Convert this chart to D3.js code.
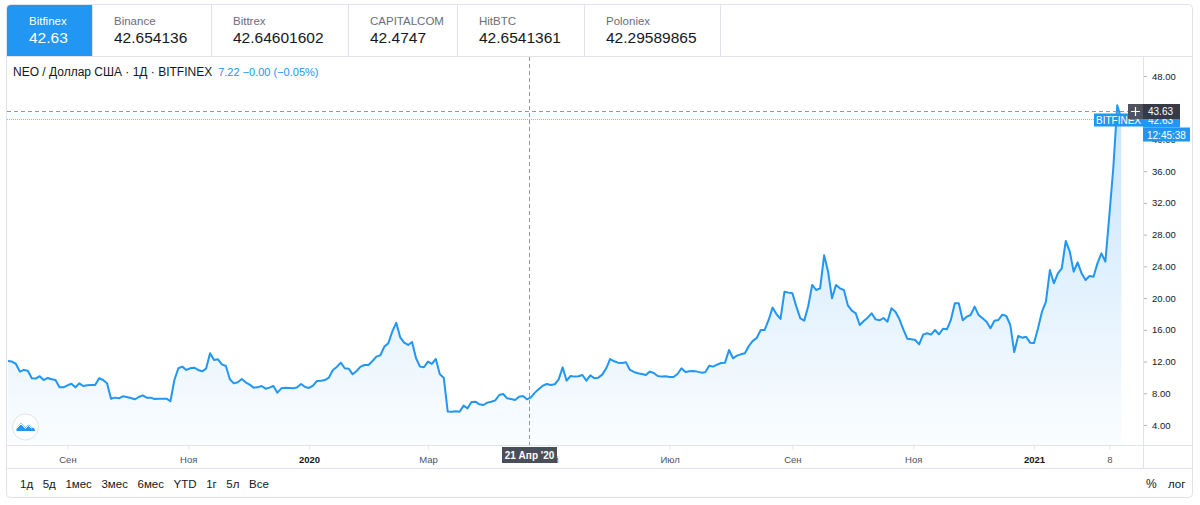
<!DOCTYPE html>
<html><head><meta charset="utf-8">
<script src="https://cdn.jsdelivr.net/npm/d3@7"></script>
<style>
html,body{margin:0;padding:0;background:#fff;}
svg{display:block;font-family:"Liberation Sans",Arial,sans-serif;}
</style></head><body>
<svg id="c" width="1200" height="505"></svg>
<script>
// ---------------- data ----------------
const startDate = "2019-08-02";
const stepDays = 2;
const prices = [
 12.07,12.0,11.7,10.73,10.94,10.85,9.89,9.85,10.15,9.67,
 9.93,9.76,9.67,8.75,8.75,9.0,9.2,8.75,9.25,8.92,
 9.0,9.04,9.04,9.89,9.67,9.25,7.32,7.45,7.36,7.62,
 7.53,7.41,7.24,7.53,7.74,7.45,7.45,7.28,7.32,7.32,
 7.32,6.99,9.67,11.15,11.36,10.94,11.15,11.23,10.94,10.77,
 11.1,13.04,12.2,12.28,11.65,11.44,9.76,9.25,9.38,9.8,
 9.38,9.09,8.71,8.75,8.92,8.58,8.71,8.92,8.08,8.62,
 8.71,8.67,8.62,8.75,9.17,8.79,8.67,8.96,9.55,9.59,
 9.67,9.97,10.94,11.32,11.86,11.15,11.1,10.39,10.81,11.36,
 11.57,11.57,12.07,12.62,12.79,13.88,14.3,15.77,16.9,15.05,
 14.38,14.09,14.47,12.41,11.36,11.28,11.99,11.7,12.33,10.4,
 9.95,5.7,5.68,5.72,5.68,6.44,6.1,6.9,6.94,6.61,
 6.52,6.82,6.94,7.11,7.78,7.91,7.36,7.28,7.15,7.57,
 7.66,7.24,7.49,8.08,8.54,8.96,9.17,9.05,9.13,9.76,
 11.27,9.59,10.18,10.1,10.14,10.31,9.59,10.26,9.89,9.97,
 10.35,11.15,12.32,12.03,11.86,11.82,11.9,10.94,10.69,10.52,
 10.43,10.31,10.73,10.56,10.18,10.1,10.14,10.05,10.05,10.43,
 11.15,10.69,10.77,10.81,10.73,10.6,10.64,11.48,11.36,11.61,
 11.82,11.86,13.46,12.41,12.74,12.91,13.04,13.96,14.6,14.97,
 15.98,15.98,17.24,18.8,17.96,17.37,20.81,20.69,20.6,18.92,
 17.45,17.16,19.01,21.66,21.02,21.23,25.4,23.34,19.97,21.66,
 21.23,21.02,19.09,18.41,18.08,16.61,17.11,17.53,18.08,17.32,
 17.2,17.49,17.03,18.71,18.29,17.36,16.06,14.88,14.8,14.71,
 14.17,15.39,15.56,15.39,15.98,15.43,16.14,16.06,17.24,19.34,
 19.34,17.2,17.66,17.87,18.92,17.87,17.45,17.03,16.19,17.15,
 17.24,17.91,17.74,16.61,13.2,15.22,15.01,15.13,14.38,14.33,
 16.19,18.29,19.55,23.54,21.86,23.12,23.75,27.2,25.9,23.33,
 24.51,23.12,22.28,22.79,22.7,24.38,25.64,24.59,30.4,36.4,
 44.3,42.63
];
const exchanges = ["Bitfinex","Binance","Bittrex","CAPITALCOM","HitBTC","Poloniex"];
const exchangePrices = ["42.63","42.654136","42.64601602","42.4747","42.6541361","42.29589865"];
const priceTicks = [4,8,12,16,20,24,28,32,36,40,48];
const timeTickDates = ["2019-09-01","2019-11-01","2020-01-01","2020-03-01","2020-05-01","2020-07-01","2020-09-01","2020-11-01","2021-01-01","2021-02-08"];
const timeTickLabels = ["Сен","Ноя","2020","Мар","Май","Июл","Сен","Ноя","2021","8"];
const boldTimeLabels = ["2020","2021"];
const rangeButtons = ["1д","5д","1мес","3мес","6мес","YTD","1г","5л","Все"];
const symbolTitle = "NEO / Доллар США · 1Д · BITFINEX";
const legendValues = "7.22 −0.00 (−0.05%)";
const crosshairDate = "2020-04-21";
const crosshairDateLabel = "21 Апр '20";
const crosshairPrice = 43.63;
const lastPrice = 42.63;
const countdown = "12:45:38";
const seriesName = "BITFINEX";
const xDomain = ["2019-08-02","2021-02-25"];
const yDomain = [4,48];

// ---------------- drawing ----------------
const parse = d3.timeParse("%Y-%m-%d");
const t0 = parse(startDate);
const data = prices.map((v,i)=>({date:d3.timeDay.offset(t0,i*stepDays), value:v}));

const svg = d3.select("#c");
const BLUE = "#2196f3";
const plot = {left:7, right:1143, top:57, bottom:445};
const x = d3.scaleTime().domain(xDomain.map(parse)).range([8,1143]);
const y = d3.scaleLinear().domain(yDomain).range([425,76]);

// outer frame
svg.append("rect").attr("x",6.5).attr("y",4.5).attr("width",1186).attr("height",493)
  .attr("rx",4).attr("fill","#fff").attr("stroke","#e0e3eb");

// defs
const defs = svg.append("defs");
const grad = defs.append("linearGradient").attr("id","ag").attr("gradientUnits","userSpaceOnUse")
  .attr("x1",0).attr("x2",0).attr("y1",100).attr("y2",plot.bottom);
grad.append("stop").attr("offset",0).attr("stop-color",BLUE).attr("stop-opacity",0.26);
grad.append("stop").attr("offset",1).attr("stop-color",BLUE).attr("stop-opacity",0.02);
defs.append("clipPath").attr("id","pc").append("rect")
  .attr("x",plot.left).attr("y",plot.top).attr("width",plot.right-plot.left).attr("height",plot.bottom-plot.top);

// tabs
const tabEdges = [7,92,211,348,457,584,720];
const tabs = svg.append("g");
tabs.append("path").attr("d","M7,56 L7,9 Q7,5 11,5 L92,5 L92,56 Z").attr("fill",BLUE);
tabEdges.slice(1).forEach(e=>{
  tabs.append("line").attr("x1",e+0.5).attr("x2",e+0.5).attr("y1",5).attr("y2",56).attr("stroke","#e0e3eb");
});
tabs.append("line").attr("x1",7).attr("x2",1192).attr("y1",56.5).attr("y2",56.5).attr("stroke","#e0e3eb");
exchanges.forEach((n,i)=>{
  const active = i===0;
  tabs.append("text").attr("x",tabEdges[i]+22).attr("y",25).attr("font-size",11.5)
    .attr("fill",active?"#fff":"#6a6d78").text(n);
  tabs.append("text").attr("x",tabEdges[i]+22).attr("y",43).attr("font-size",15.5)
    .attr("fill",active?"#fff":"#131722").text(exchangePrices[i]);
});

// area + line
const pg = svg.append("g").attr("clip-path","url(#pc)");
pg.append("path").datum(data)
  .attr("d", d3.area().x(d=>x(d.date)).y0(plot.bottom).y1(d=>y(d.value)))
  .attr("fill","url(#ag)");
pg.append("path").datum(data)
  .attr("d", d3.line().x(d=>x(d.date)).y(d=>y(d.value)))
  .attr("fill","none").attr("stroke",BLUE).attr("stroke-width",2).attr("stroke-linejoin","round");

// price line (last) and crosshair
const yLast = Math.round(y(lastPrice))+0.5;
const yCross = Math.round(y(crosshairPrice))+0.5;
const xCross = Math.round(x(parse(crosshairDate)))+0.5;
svg.append("line").attr("x1",plot.left).attr("x2",plot.right).attr("y1",yLast).attr("y2",yLast)
  .attr("stroke",BLUE).attr("stroke-opacity",0.6).attr("stroke-dasharray","1,1").attr("stroke-width",1);
svg.append("line").attr("x1",plot.left).attr("x2",plot.right).attr("y1",yCross).attr("y2",yCross)
  .attr("stroke","#9598a1").attr("stroke-dasharray","4,3");
svg.append("line").attr("x1",xCross).attr("x2",xCross).attr("y1",plot.top).attr("y2",plot.bottom)
  .attr("stroke","#9598a1").attr("stroke-dasharray","4,3");

// separators
svg.append("line").attr("x1",plot.right+0.5).attr("x2",plot.right+0.5).attr("y1",57).attr("y2",468).attr("stroke","#e0e3eb");
svg.append("line").attr("x1",7).attr("x2",1192).attr("y1",445.5).attr("y2",445.5).attr("stroke","#e0e3eb");
svg.append("line").attr("x1",7).attr("x2",1192).attr("y1",468.5).attr("y2",468.5).attr("stroke","#e0e3eb");

// right axis
const ya = svg.append("g").attr("transform",`translate(${plot.right+1},0)`)
  .call(d3.axisRight(y).tickValues(priceTicks).tickFormat(d=>d.toFixed(2)).tickSize(3).tickPadding(5));
ya.select(".domain").remove();
ya.selectAll("line").attr("stroke","#b2b5be");
ya.selectAll("text").attr("font-size",9.5).attr("fill","#131722").attr("font-family","Liberation Sans, Arial, sans-serif");

// bottom axis
const xa = svg.append("g").attr("transform",`translate(0,${plot.bottom+0.5})`)
  .call(d3.axisBottom(x).tickValues(timeTickDates.map(parse)).tickFormat((d,i)=>timeTickLabels[i]).tickSize(4).tickPadding(7));
xa.select(".domain").remove();
xa.selectAll("line").attr("stroke","#e0e3eb");
xa.selectAll("text").attr("font-size",9.5).attr("font-family","Liberation Sans, Arial, sans-serif")
  .attr("font-weight",(d,i)=>boldTimeLabels.includes(timeTickLabels[i])?"bold":"normal")
  .attr("fill",(d,i)=>boldTimeLabels.includes(timeTickLabels[i])?"#131722":"#4c525e");

// crosshair date label
const cdl = svg.append("g");
cdl.append("rect").attr("x",xCross-27.5).attr("y",447).attr("width",55).attr("height",16).attr("fill","#4a4e59");
cdl.append("text").attr("x",xCross).attr("y",459).attr("text-anchor","middle").attr("font-size",10)
  .attr("font-weight","bold").attr("fill","#fff").text(crosshairDateLabel);

// right price labels
const rl = svg.append("g");
rl.append("rect").attr("x",1143).attr("y",yLast-7).attr("width",37).attr("height",15).attr("fill",BLUE);
rl.append("text").attr("x",1148).attr("y",yLast+4).attr("font-size",10).attr("fill","#fff").text(lastPrice.toFixed(2));
rl.append("rect").attr("x",1143).attr("y",yLast+8).attr("width",47).attr("height",14).attr("fill",BLUE);
rl.append("text").attr("x",1147).attr("y",yLast+19).attr("font-size",10).attr("fill","#fff").text(countdown);
rl.append("rect").attr("x",1094).attr("y",yLast-6).attr("width",49).attr("height",13).attr("fill",BLUE);
rl.append("text").attr("x",1118.5).attr("y",yLast+4).attr("text-anchor","middle").attr("font-size",10).attr("fill","#fff").text(seriesName);
rl.append("rect").attr("x",1143).attr("y",yCross-7.5).attr("width",37).attr("height",15).attr("fill","#363a45");
rl.append("text").attr("x",1148).attr("y",yCross+3.5).attr("font-size",10).attr("fill","#fff").text(crosshairPrice.toFixed(2));
rl.append("rect").attr("x",1128).attr("y",yCross-7.5).attr("width",15).attr("height",15).attr("fill","#50535e");
rl.append("path").attr("d",`M1131,${yCross} h9 M1135.5,${yCross-4.5} v9`).attr("stroke","#fff").attr("stroke-width",1.2);

// header legend
const hl = svg.append("text").attr("x",13).attr("y",76).attr("font-size",12);
hl.append("tspan").attr("fill","#131722").text(symbolTitle);
hl.append("tspan").attr("fill",BLUE).attr("dx",6).attr("font-size",11).text(legendValues);

// toolbar
const tb = svg.append("g");
let bx = 20;
rangeButtons.forEach(b=>{
  const t = tb.append("text").attr("x",bx).attr("y",488).attr("font-size",11.5).attr("fill","#131722").text(b);
  bx += t.node().getComputedTextLength()+9.6;
});
tb.append("text").attr("x",1146).attr("y",488).attr("font-size",12).attr("fill","#131722").text("%");
tb.append("text").attr("x",1168).attr("y",488).attr("font-size",11.5).attr("fill","#131722").text("лог");

// logo
const lg = svg.append("g");
lg.append("circle").attr("cx",25.5).attr("cy",427).attr("r",13).attr("fill","#fff").attr("stroke","#e0e3eb");
lg.append("path").attr("d","M16.5,431 L16.5,428 L21,423 L25.5,427.5 L28.5,424.5 L31.5,427.5 Q35,427.5 35,431 Z").attr("fill",BLUE);
lg.append("path").attr("d","M16.5,428.5 L21,424 L25.5,428.5 L28.5,425.5 L31.5,428.5").attr("fill","none").attr("stroke","#fff").attr("stroke-width",1);
</script>
</body></html>
